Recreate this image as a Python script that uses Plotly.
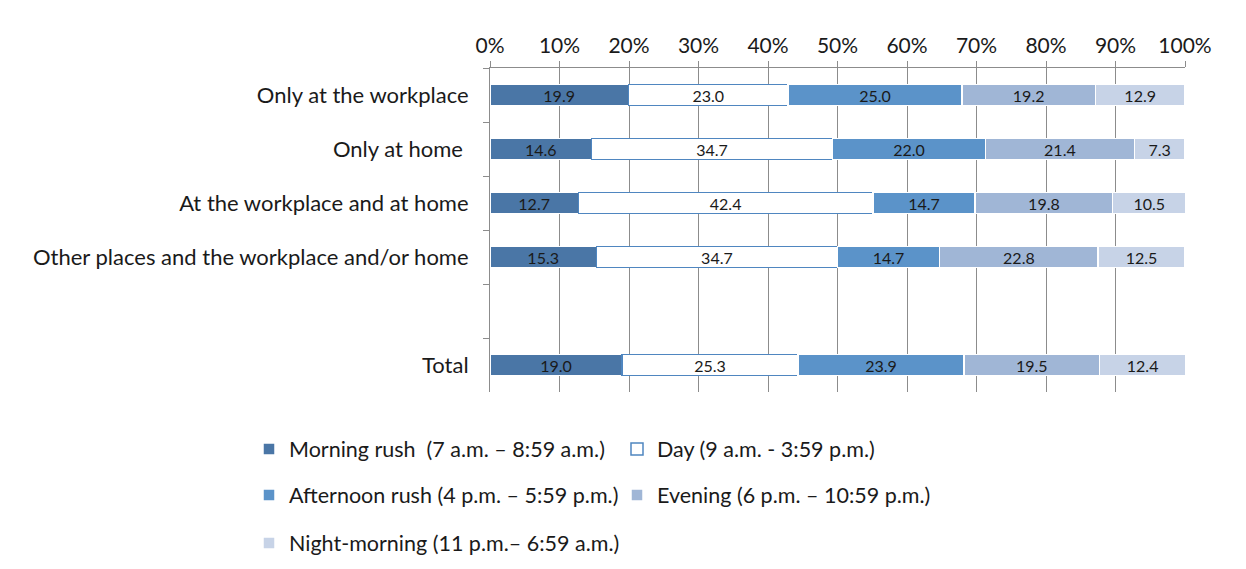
import plotly.graph_objects as go

categories = ["Only at the workplace", "Only at home ", "At the workplace and at home",
              "Other places and the workplace and/or home", " ", "Total"]
morning = [19.9, 14.6, 12.7, 15.3, None, 19.0]
day = [23.0, 34.7, 42.4, 34.7, None, 25.3]
afternoon = [25.0, 22.0, 14.7, 14.7, None, 23.9]
evening = [19.2, 21.4, 19.8, 22.8, None, 19.5]
night = [12.9, 7.3, 10.5, 12.5, None, 12.4]

series_names = ["Morning rush  (7 a.m. \u2013 8:59 a.m.)", "Day (9 a.m. - 3:59 p.m.)",
                "Afternoon rush (4 p.m. \u2013 5:59 p.m.)", "Evening (6 p.m. \u2013 10:59 p.m.)",
                "Night-morning (11 p.m.\u2013 6:59 a.m.)"]
series_values = [morning, day, afternoon, evening, night]
fills = ["#4a76a6", "#ffffff", "#5b93c9", "#a0b6d6", "#c7d3e7"]
outlines = ["#ffffff", "#4f86c0", "#ffffff", "#ffffff", "#ffffff"]
legend_ids = ["legend", "legend2", "legend3", "legend4", "legend5"]
# legend placement (left edge px, row centre px) in the 1246x569 page
legend_pos = [(249, 449), (617, 449), (249, 495), (617, 495), (249, 543)]

FONT = "Lato"
TXT = "#1a1a1a"
fig = go.Figure()
for name, vals, fc, lc, lg in zip(series_names, series_values, fills, outlines, legend_ids):
    fig.add_trace(go.Bar(
        y=categories, x=vals, name=name, orientation="h",
        marker=dict(color=fc, line=dict(color=lc, width=1.5)),
        width=0.38,
        texttemplate="%{x:.1f}", textposition="inside", insidetextanchor="middle",
        constraintext="none",
        textangle=0, textfont=dict(size=16, color=TXT, family=FONT),
        legend=lg, hoverinfo="skip",
    ))

W, H = 1246, 569
legends = {}
for lg, (lx, ly) in zip(legend_ids, legend_pos):
    legends[lg] = dict(orientation="h", xref="container", yref="container",
                       x=lx / W, y=1 - ly / H, xanchor="left", yanchor="middle",
                       font=dict(size=21.5, family=FONT, color=TXT),
                       itemwidth=30, bgcolor="rgba(0,0,0,0)", borderwidth=0)

fig.update_layout(
    barmode="stack",
    width=W, height=H,
    margin=dict(l=490, r=61, t=68, b=177),
    paper_bgcolor="white", plot_bgcolor="white",
    font=dict(family=FONT, size=22, color=TXT),
    showlegend=True,
    xaxis=dict(side="top", range=[0, 100], tickvals=list(range(0, 101, 10)),
               ticktext=[f"{v}%" for v in range(0, 101, 10)],
               showgrid=True, gridcolor="#8c8c8c", gridwidth=1,
               showline=True, linecolor="#8c8c8c", linewidth=1,
               ticks="outside", ticklen=6, tickcolor="#8c8c8c",
               tickfont=dict(size=21, family=FONT, color=TXT), zeroline=False),
    yaxis=dict(categoryorder="array", categoryarray=categories, autorange="reversed",
               showline=True, linecolor="#8c8c8c", linewidth=1,
               ticks="outside", ticklen=6, tickcolor="#8c8c8c", tickson="boundaries",
               ticklabelstandoff=16,
               tickfont=dict(size=22, family=FONT, color=TXT), showgrid=False),
    **legends,
)
fig.write_html("out.html")
